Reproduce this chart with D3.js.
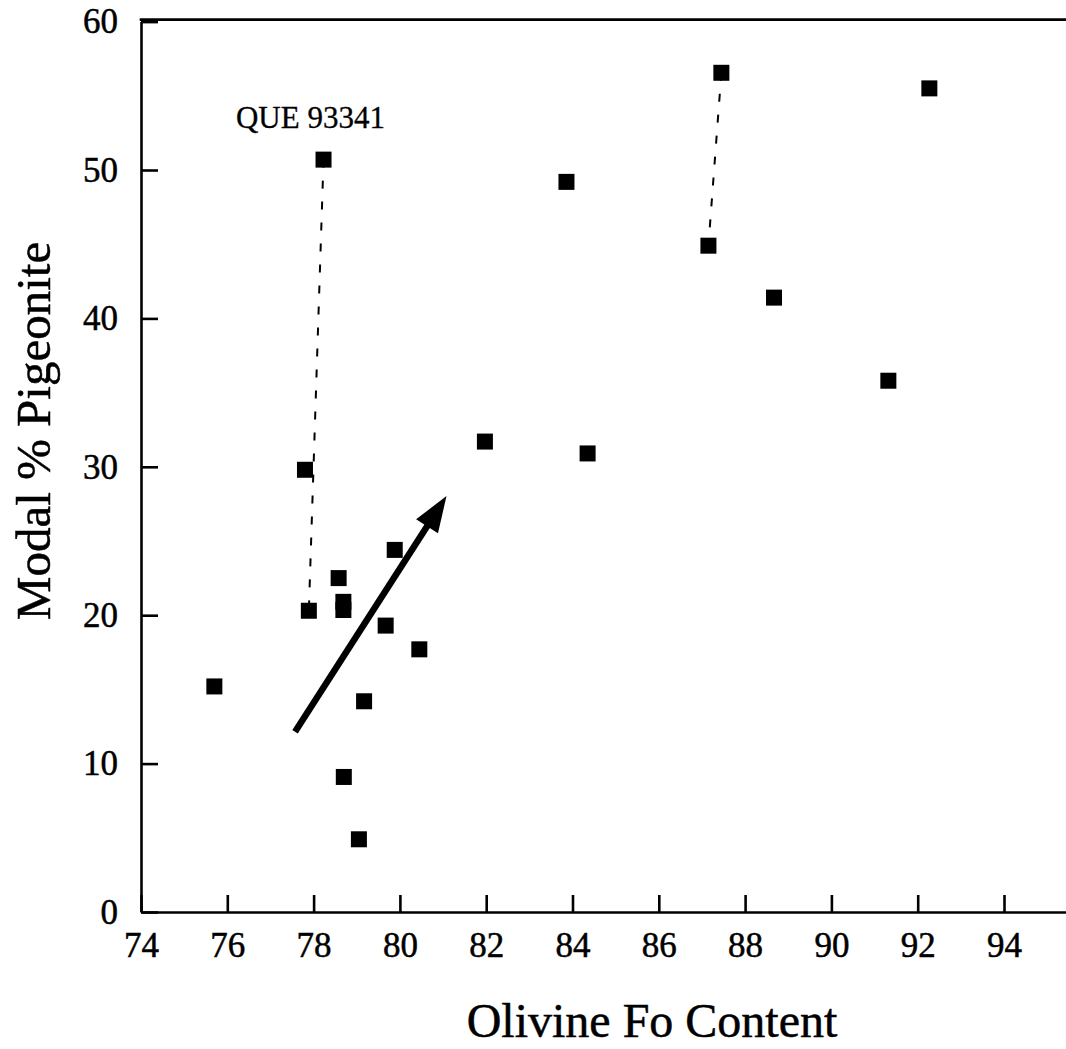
<!DOCTYPE html>
<html>
<head>
<meta charset="utf-8">
<script src="https://cdn.jsdelivr.net/npm/d3@7"></script>
<style>
  html, body { margin: 0; padding: 0; background: #fff; }
  svg { display: block; }
  text { font-family: "Liberation Serif", "Times New Roman", serif; fill: #000; stroke: #000; stroke-width: 0.5px; }
</style>
</head>
<body>
<svg id="chart" width="1066" height="1049"></svg>
<script>
// ---- data ----
const foContent = [75.70, 78.23, 77.80, 77.89, 78.58, 78.69, 78.69, 79.88, 79.67, 80.45, 79.17, 78.70, 79.05, 81.97, 83.86, 84.35, 87.45, 87.15, 88.67, 91.32, 92.27];
const pigeonite = [15.2, 50.7, 29.8, 20.3, 22.5, 20.9, 20.35, 24.4, 19.3, 17.7, 14.2, 9.1, 4.9, 31.7, 49.2, 30.9, 56.55, 44.9, 41.4, 35.8, 55.5];

// dashed tie lines between paired analyses
const tieX1 = [78.23, 87.45];
const tieY1 = [50.7, 56.55];
const tieX2 = [77.89, 87.15];
const tieY2 = [20.3, 44.9];

// trend arrow (tail -> tip)
const arrowX = [77.57, 81.08];
const arrowY = [12.15, 28.03];

// annotation
const labelText = "QUE 93341";
const labelX = 76.2;
const labelY = 52.8;

const xTicks = [74, 76, 78, 80, 82, 84, 86, 88, 90, 92, 94];
const yTicks = [0, 10, 20, 30, 40, 50, 60];
const xTitle = "Olivine Fo Content";
const yTitle = "Modal % Pigeonite";

// ---- layout ----
const svg = d3.select("#chart");
const x = d3.scaleLinear().domain([74, 96]).range([141, 141 + 22 * 43.15]);
const y = d3.scaleLinear().domain([0, 60]).range([912, 21.6]);

const axisW = 2.6;

// x axis
const gx = svg.append("g").attr("transform", `translate(0,${y(0)})`)
  .call(d3.axisBottom(x).tickValues(xTicks).tickSize(-17).tickSizeOuter(0).tickPadding(20));
gx.select(".domain").attr("stroke", "#000").attr("stroke-width", axisW);
gx.selectAll(".tick line").attr("stroke", "#000").attr("stroke-width", axisW);
gx.selectAll(".tick text").style("font-size", "35px").style("font-family", "Liberation Serif");

// y axis
const gy = svg.append("g").attr("transform", `translate(${x(74)},0)`)
  .call(d3.axisLeft(y).tickValues(yTicks).tickSize(-17).tickSizeOuter(0).tickPadding(23));
gy.select(".domain").attr("stroke", "#000").attr("stroke-width", axisW);
gy.selectAll(".tick line").attr("stroke", "#000").attr("stroke-width", axisW);
gy.selectAll(".tick text").style("font-size", "35px").style("font-family", "Liberation Serif");

// top frame line
svg.append("line")
  .attr("x1", x(74) - axisW / 2).attr("x2", x(96))
  .attr("y1", y(60) - 2).attr("y2", y(60) - 2)
  .attr("stroke", "#000").attr("stroke-width", axisW);

// tie lines
svg.append("g").selectAll("line").data(tieX1).join("line")
  .attr("x1", (d, i) => x(tieX1[i])).attr("y1", (d, i) => y(tieY1[i]))
  .attr("x2", (d, i) => x(tieX2[i])).attr("y2", (d, i) => y(tieY2[i]))
  .attr("stroke", "#000").attr("stroke-width", 2)
  .attr("stroke-dasharray", "8,13");

// arrow
const ax0 = x(arrowX[0]), ay0 = y(arrowY[0]), ax1 = x(arrowX[1]), ay1 = y(arrowY[1]);
const len = Math.hypot(ax1 - ax0, ay1 - ay0);
const ux = (ax1 - ax0) / len, uy = (ay1 - ay0) / len;
const headL = 36, headW = 13;
const bx = ax1 - ux * headL, by = ay1 - uy * headL;
svg.append("line")
  .attr("x1", ax0).attr("y1", ay0).attr("x2", bx + ux * 4).attr("y2", by + uy * 4)
  .attr("stroke", "#000").attr("stroke-width", 6.5);
svg.append("polygon")
  .attr("points", [[ax1, ay1], [bx - uy * headW, by + ux * headW], [bx + uy * headW, by - ux * headW]].map(p => p.join(",")).join(" "))
  .attr("fill", "#000");

// points
const s = 16;
svg.append("g").selectAll("rect").data(foContent).join("rect")
  .attr("x", (d) => x(d) - s / 2)
  .attr("y", (d, i) => y(pigeonite[i]) - s / 2)
  .attr("width", s).attr("height", s)
  .attr("fill", "#000");

// annotation
svg.append("text")
  .attr("x", x(labelX)).attr("y", y(labelY))
  .style("font-size", "31px")
  .style("stroke-width", "0.3px")
  .text(labelText);

// axis titles
svg.append("text")
  .attr("x", 652).attr("y", 1037)
  .attr("text-anchor", "middle")
  .style("font-size", "48px")
  .text(xTitle);

svg.append("text")
  .attr("transform", "translate(50,431) rotate(-90)")
  .attr("text-anchor", "middle")
  .style("font-size", "49px")
  .text(yTitle);
</script>
</body>
</html>
